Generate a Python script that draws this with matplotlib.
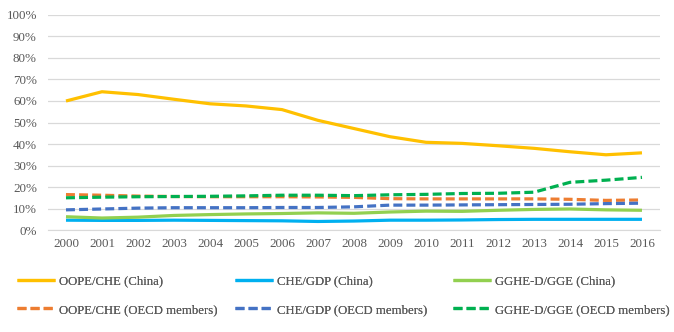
import matplotlib.pyplot as plt
import numpy as np

plt.rcParams['font.family'] = ['Liberation Serif', 'DejaVu Serif']

years = [str(y) for y in range(2000, 2017)]

oope_che_china = [60.0, 64.3, 63.0, 60.8, 58.7, 57.7, 56.0, 51.0, 47.2, 43.4, 40.8, 40.3, 39.2, 38.0, 36.4, 35.0, 35.9]
che_gdp_china = [4.6, 4.5, 4.5, 4.6, 4.5, 4.4, 4.3, 4.0, 4.2, 4.6, 4.6, 4.7, 4.9, 5.0, 5.0, 5.0, 5.0]
gghe_gge_china = [6.2, 5.6, 6.0, 6.8, 7.2, 7.5, 7.7, 8.0, 7.8, 8.4, 8.8, 8.7, 9.2, 9.6, 9.8, 9.4, 9.2]
oope_che_oecd = [16.5, 16.2, 15.8, 15.6, 15.5, 15.5, 15.5, 15.4, 15.2, 14.6, 14.5, 14.5, 14.5, 14.5, 14.3, 13.8, 14.0]
che_gdp_oecd = [9.4, 9.8, 10.2, 10.4, 10.4, 10.4, 10.5, 10.5, 10.8, 11.6, 11.6, 11.7, 11.8, 11.9, 12.0, 12.3, 12.5]
gghe_gge_oecd = [15.0, 15.3, 15.5, 15.6, 15.7, 15.9, 16.2, 16.2, 16.0, 16.4, 16.6, 17.0, 17.1, 17.6, 22.2, 23.2, 24.5]

yticks = list(range(0, 101, 10))

fig = plt.figure(figsize=(6.74, 3.32), dpi=100)
ax = fig.add_axes([0.0712, 0.307, 0.908, 0.648])

x = np.arange(len(years))
lw = 2.3
dash = (0, (2.8, 1.3))
txt = '#595959'

pairs = [
    (oope_che_china, '#FFC000', 'OOPE/CHE (China)', oope_che_oecd, '#ED7D31', 'OOPE/CHE (OECD members)'),
    (che_gdp_china, '#00B0F0', 'CHE/GDP (China)', che_gdp_oecd, '#4472C4', 'CHE/GDP (OECD members)'),
    (gghe_gge_china, '#92D050', 'GGHE-D/GGE (China)', gghe_gge_oecd, '#00B050', 'GGHE-D/GGE (OECD members)'),
]

handles = []
for cn, ccol, clab, oe, ocol, olab in pairs:
    h1, = ax.plot(x, cn, color=ccol, lw=lw, label=clab, solid_capstyle='butt')
    h2, = ax.plot(x, oe, color=ocol, lw=lw, ls=dash, label=olab)
    handles.append((h1, h2))

ax.set_xlim(-0.5, len(years) - 0.5)
ax.set_ylim(0, 100)
ax.set_xticks(x)
ax.set_xticklabels(years)
ax.set_yticks(yticks)
ax.set_yticklabels([f'{v}%' for v in yticks])
ax.tick_params(length=0, labelsize=9.4, colors=txt)
ax.tick_params(axis='y', pad=8)
ax.tick_params(axis='x', pad=6)
ax.grid(axis='y', color='#D9D9D9', lw=0.9)
ax.set_axisbelow(True)
for s in ['top', 'right', 'left']:
    ax.spines[s].set_visible(False)
ax.spines['bottom'].set_color('#D9D9D9')

# three legend columns at equal spacing, like the spreadsheet legend
col_x = [17, 235, 453]
for cx, hs in zip(col_x, handles):
    leg = fig.legend(handles=list(hs), loc='center left',
                     bbox_to_anchor=(cx / 674, 1 - 295.5 / 332),
                     frameon=False, fontsize=9.2, handlelength=3.0,
                     handletextpad=0.3, labelspacing=1.3, borderpad=0,
                     borderaxespad=0, labelcolor=txt)
    fig.add_artist(leg)

fig.savefig('out.png', dpi=100)
